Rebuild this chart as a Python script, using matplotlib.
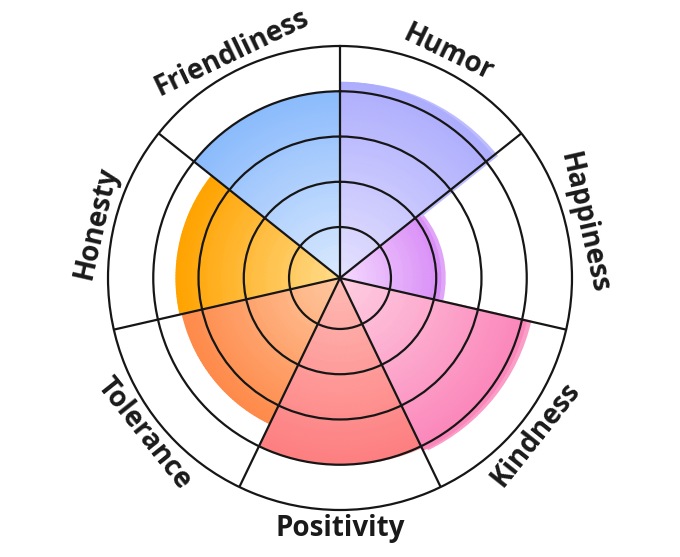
import numpy as np
import matplotlib.pyplot as plt
from matplotlib.colors import LinearSegmentedColormap
from matplotlib.transforms import ScaledTranslation

# Data
traits = ['Humor', 'Happiness', 'Kindness', 'Positivity', 'Tolerance', 'Honesty', 'Friendliness']
scores = [4.2, 2.1, 4.1, 4.0, 3.45, 3.5, 4.0]
inner_colors = ['#e6e2ff', '#f6dcff', '#ffd0e3', '#ffbcb6', '#ffcaa2', '#ffdd8e', '#dceaff']
outer_colors = ['#adadfd', '#d98ef7', '#fb86ba', '#fd7e80', '#fe8a4a', '#ffa300', '#8bbbfc']

RMIN = -0.126
RMAX = 5
LINE = '#161616'

fig = plt.figure(figsize=(6.8, 5.57), dpi=100)
ax = fig.add_axes([0.1588, 0.0844, 0.6824, 0.833], projection='polar')
ax.set_theta_zero_location('N')
ax.set_theta_direction(-1)
ax.set_ylim(RMIN, RMAX)

n = len(traits)
width = 2 * np.pi / n
starts = np.arange(n) * width

# soft offset copy behind each sector
shadow = ax.transData + ScaledTranslation(5 / 100, 0, fig.dpi_scale_trans)
for t0, val, col in zip(starts, scores, outer_colors):
    ax.bar(t0, val - RMIN, width=width, bottom=RMIN, align='edge', color=col,
           alpha=0.8, linewidth=0, transform=shadow, zorder=0.5)

# radial gradient sectors
for t0, val, c_in, c_out in zip(starts, scores, inner_colors, outer_colors):
    cmap = LinearSegmentedColormap.from_list('g', [c_in, c_out])
    th = np.linspace(t0, t0 + width, 50)
    rr = np.linspace(RMIN, val, 12)
    T, R = np.meshgrid(th, rr)
    C = (R - RMIN) / (val - RMIN)
    ax.pcolormesh(T, R, C, cmap=cmap, vmin=0, vmax=1, shading='gouraud', zorder=1)

ax.set_xticks(starts)
ax.set_xticklabels([])
ax.set_yticks([1, 2, 3, 4])
ax.set_yticklabels([])
ax.set_axisbelow(False)
ax.grid(True, color=LINE, linewidth=1.6)
ax.spines['polar'].set_color(LINE)
ax.spines['polar'].set_linewidth(1.6)
ax.set_facecolor('white')

# labels around the rim
for t0, name in zip(starts, traits):
    mid = t0 + width / 2
    phi = 90 - np.degrees(mid)
    phi = (phi + 180) % 360 - 180
    rot = phi - 90 if phi > 0 else phi + 90
    ax.text(mid, 5.4, name, rotation=rot, rotation_mode='anchor',
            ha='center', va='center', fontsize=20, fontweight='bold',
            family=['Open Sans', 'DejaVu Sans'], color='#1a1a1a', clip_on=False)

fig.savefig('out.png', dpi=100)
